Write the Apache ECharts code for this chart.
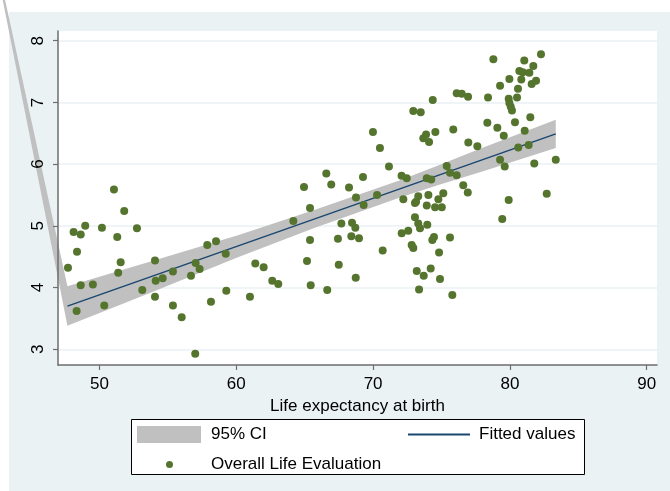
<!DOCTYPE html>
<html>
<head>
<meta charset="utf-8">
<title>Life evaluation vs life expectancy</title>
<script src="https://cdn.jsdelivr.net/npm/echarts@6/dist/echarts.min.js"></script>
<style>
  html, body { margin: 0; padding: 0; background: #fff; }
  #chart { width: 670px; height: 491px; }
</style>
</head>
<body>
<div id="chart"></div>
<script>
// scatter: life expectancy at birth (x) vs overall life evaluation (y)
var lifeExp = [
  51.06, 51.81, 48.11, 48.63, 48.96, 50.18, 51.30, 52.74, 48.36, 47.70, 51.55, 51.37, 48.63, 49.52, 54.06, 54.11, 54.62,
  53.13, 54.06, 48.33, 50.35, 55.37, 55.37, 56.01, 56.69, 57.03, 57.32, 57.88, 58.52, 59.23, 59.27, 58.15, 57.00,
  71.16, 66.58, 64.95, 66.94, 68.24, 69.26, 68.75, 70.29, 69.31, 65.39, 64.17, 67.68, 68.46, 68.70, 65.39, 67.43,
  68.41, 68.97, 70.70, 61.39, 62.00, 65.17, 67.49, 62.63, 63.07, 65.44, 66.65, 68.73, 61.00,
  74.36, 76.11, 76.48, 76.94, 78.40, 72.94, 73.48, 75.86, 74.55, 73.87, 73.67, 74.09, 78.35, 76.96, 77.62, 72.08,
  72.46, 73.92, 74.25, 75.38, 75.62, 76.11, 76.59, 76.92, 72.21, 73.30, 74.04, 75.13, 74.77, 73.14, 73.06, 73.92,
  74.53, 75.02, 73.06, 73.30, 73.43, 73.96, 72.09, 72.57, 74.45, 74.33, 75.62, 72.82, 72.94, 74.82, 73.19, 73.70,
  74.21, 74.89, 73.36, 75.79,
  78.79, 82.27, 81.05, 81.71, 80.69, 80.94, 81.42, 79.96, 80.83, 81.91, 81.59, 79.28, 80.59, 79.91, 80.52, 79.96,
  80.06, 80.15, 79.08, 79.55, 80.37, 81.49, 81.08, 80.61, 81.37, 79.28, 79.62, 81.78, 83.35, 79.91, 82.69, 79.44,
  69.99, 70.50
];
var lifeEval = [
  5.59, 5.24, 4.90, 4.86, 5.00, 4.97, 4.82, 4.96, 4.58, 4.32, 4.41, 4.24, 4.04, 4.05, 4.44, 4.11, 4.15,
  3.96, 3.85, 3.62, 3.71, 4.26, 3.71, 3.52, 4.19, 4.40, 4.30, 4.69, 4.75, 4.55, 3.95, 3.77, 2.93,
  5.96, 5.85, 5.63, 5.67, 5.62, 5.79, 5.46, 5.50, 5.34, 5.29, 5.08, 5.04, 5.05, 4.97, 4.77, 4.79,
  4.83, 4.80, 4.60, 4.39, 4.33, 4.43, 4.37, 4.11, 4.06, 4.04, 3.96, 4.16, 3.85,
  7.04, 7.15, 7.14, 7.09, 7.08, 6.86, 6.84, 6.56, 6.52, 6.48, 6.42, 6.36, 6.67, 6.35, 6.29, 5.81,
  5.77, 5.77, 5.75, 5.97, 5.86, 5.82, 5.66, 5.54, 5.43, 5.48, 5.50, 5.53, 5.43, 5.39, 5.37, 5.33,
  5.30, 5.30, 5.14, 5.04, 4.96, 5.02, 4.88, 4.92, 4.82, 4.77, 4.81, 4.69, 4.64, 4.57, 4.27, 4.19,
  4.31, 4.14, 3.97, 3.88,
  7.70, 7.78, 7.68, 7.59, 7.51, 7.49, 7.48, 7.38, 7.37, 7.35, 7.30, 7.27, 7.22, 7.06, 7.08, 6.99,
  6.93, 6.87, 6.59, 6.46, 6.68, 6.76, 6.54, 6.27, 6.31, 6.07, 5.96, 6.01, 6.07, 5.42, 5.52, 5.11,
  6.52, 6.26
];

// fitted line and its 95% band
var fittedX = [47.66, 83.35];
var fittedY = [3.70, 6.49];
var ciX = [47.66, 53.55, 60.12, 65.75, 71.97, 74.89, 77.81, 83.35];
var ciLow = [3.38, 3.90, 4.49, 4.97, 5.46, 5.67, 5.87, 6.26];
var ciHigh = [4.02, 4.41, 4.85, 5.26, 5.74, 5.99, 6.25, 6.72];
// stray vertex of the band polygon (as in the original export)
var ciGlitch = [41.1, 10.7];

var xTicks = [50, 60, 70, 80, 90];
var yTicks = [3, 4, 5, 6, 7, 8];

var FONT = 'Liberation Sans, Arial, sans-serif';
var AXIS_GRAY = '#6E6E6E';
var Y_MIN = 2.746, Y_MAX = 8.157;

var scatterData = lifeExp.map(function (x, i) { return [x, lifeEval[i]]; });
var fittedData = fittedX.map(function (x, i) { return [x, fittedY[i]]; });

var option = {
  backgroundColor: '#fff',
  animation: false,
  graphic: [
    {
      type: 'rect', left: 9, top: 12, z: -100, silent: true,
      shape: { width: 661, height: 479 },
      style: { fill: '#EAF2F3' }
    },
    {
      type: 'rect', left: 131, top: 419, z: 0, silent: true,
      shape: { width: 453, height: 55 },
      style: { fill: '#fff', stroke: '#000', lineWidth: 1 }
    }
  ],
  grid: {
    left: 58,
    top: 31,
    right: 13,
    bottom: 126,
    show: true,
    backgroundColor: '#fff',
    borderWidth: 0
  },
  xAxis: {
    type: 'value',
    min: 46.97,
    max: 90.75,
    name: 'Life expectancy at birth',
    nameLocation: 'middle',
    nameGap: 28,
    nameTextStyle: { fontFamily: FONT, fontSize: 17, color: '#000' },
    axisLine: { show: true, onZero: false, lineStyle: { color: AXIS_GRAY, width: 1.5 } },
    axisTick: { show: true, length: 5, customValues: xTicks, lineStyle: { color: AXIS_GRAY, width: 1.2 } },
    axisLabel: { customValues: xTicks, margin: 11, fontFamily: FONT, fontSize: 17, color: '#000' },
    splitLine: { show: false }
  },
  yAxis: [
    {
      // gridlines only, kept under the band
      type: 'value',
      min: Y_MIN,
      max: Y_MAX,
      axisLine: { show: false },
      axisTick: { show: false, customValues: yTicks },
      axisLabel: { show: false, customValues: yTicks },
      splitLine: { show: true, lineStyle: { color: '#EAF2F3', width: 1.5 } }
    },
    {
      // axis line, ticks and labels, drawn above the band
      type: 'value',
      position: 'left',
      min: Y_MIN,
      max: Y_MAX,
      z: 5,
      axisLine: { show: true, onZero: false, lineStyle: { color: AXIS_GRAY, width: 1.5 } },
      axisTick: { show: true, length: 5, customValues: yTicks, lineStyle: { color: AXIS_GRAY, width: 1.2 } },
      axisLabel: { customValues: yTicks, rotate: 90, margin: 11, fontFamily: FONT, fontSize: 17, color: '#000' },
      splitLine: { show: false }
    }
  ],
  legend: [
    {
      data: ['95% CI'],
      left: 137, top: 426, padding: 0,
      itemWidth: 64, itemHeight: 17, icon: 'rect',
      selectedMode: false,
      textStyle: { fontFamily: FONT, fontSize: 17, color: '#000', padding: [0, 0, 0, 5] }
    },
    {
      data: ['Fitted values'],
      left: 407, top: 426, padding: 0,
      itemWidth: 62, itemHeight: 17,
      itemStyle: { opacity: 0 },
      selectedMode: false,
      textStyle: { fontFamily: FONT, fontSize: 17, color: '#000', padding: [0, 0, 0, 4] }
    },
    {
      data: ['Overall Life Evaluation'],
      left: 166, top: 456, padding: 0,
      itemWidth: 7, itemHeight: 7, icon: 'circle',
      selectedMode: false,
      textStyle: { fontFamily: FONT, fontSize: 17, color: '#000', padding: [0, 0, 0, 33] }
    }
  ],
  series: [
    {
      name: '95% CI',
      type: 'custom',
      z: 1,
      silent: true,
      clip: false,
      itemStyle: { color: '#C0C0C0' },
      data: [[ciX[0], ciLow[0]]],
      renderItem: function (params, api) {
        var pts = [];
        for (var i = 0; i < ciX.length; i++) pts.push(api.coord([ciX[i], ciHigh[i]]));
        for (var j = ciX.length - 1; j >= 0; j--) pts.push(api.coord([ciX[j], ciLow[j]]));
        pts.push(api.coord(ciGlitch));
        return {
          type: 'polygon',
          shape: { points: pts },
          style: { fill: '#C0C0C0' }
        };
      }
    },
    {
      name: 'Fitted values',
      type: 'line',
      z: 2,
      symbol: 'none',
      silent: true,
      data: fittedData,
      lineStyle: { color: '#1A476F', width: 1.5 },
      itemStyle: { color: '#1A476F' }
    },
    {
      name: 'Overall Life Evaluation',
      type: 'scatter',
      z: 3,
      symbol: 'circle',
      symbolSize: 8,
      data: scatterData,
      itemStyle: { color: '#55752F', opacity: 1 }
    }
  ]
};

var myChart = echarts.init(document.getElementById('chart'), null, { renderer: 'canvas' });
myChart.setOption(option);
</script>
</body>
</html>
